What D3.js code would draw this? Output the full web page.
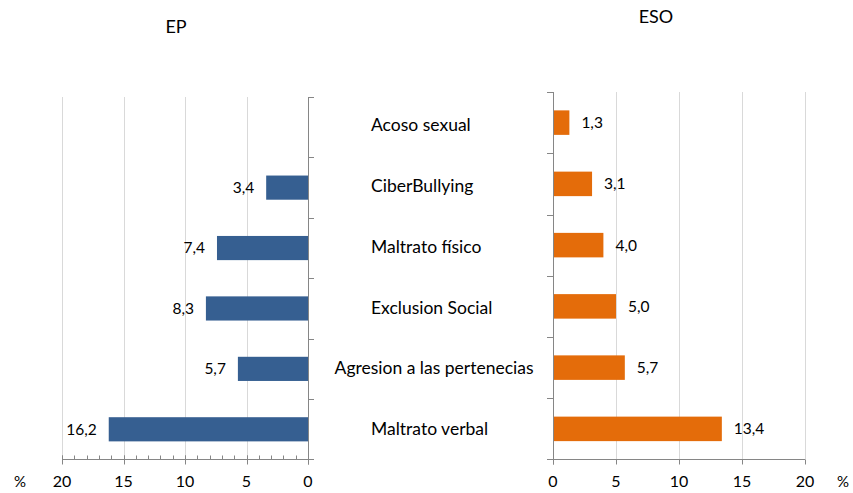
<!DOCTYPE html>
<html lang="es">
<head>
  <meta charset="UTF-8">
  <title>EP vs ESO</title>
  <script src="https://d3js.org/d3.v7.min.js"></script>
  <style>
    body { margin: 0; background: #fff; }
    text { font-family: Lato, "Open Sans", sans-serif; fill: #000; }
  </style>
</head>
<body>
<script>
  const WIDTH = 853;
  const HEIGHT = 493;

  const categories = ['Acoso sexual', 'CiberBullying', 'Maltrato físico', 'Exclusion Social',
    'Agresion a las pertenecias', 'Maltrato verbal'];
  const epValues = [null, 3.4, 7.4, 8.3, 5.7, 16.2];
  const esoValues = [1.3, 3.1, 4.0, 5.0, 5.7, 13.4];
  const tickValues = [0, 5, 10, 15, 20];
  const minorTicks = d3.range(0, 21);

  const fmt = d => d.toFixed(1).replace('.', ',');
  const AXIS = '#868686';
  const GRID = '#d9d9d9';

  const svg = d3.select('body').append('svg')
    .attr('width', WIDTH)
    .attr('height', HEIGHT);

  const baseY = 459.5;
  const tickY = 487;

  // ---- left chart (EP), reversed scale ----
  const xL = d3.scaleLinear().domain([0, 20]).range([308, 62]);
  const yL = d3.scaleBand().domain(categories).range([97, baseY]).paddingInner(0.6).paddingOuter(0.3);
  const yLt = d3.scaleBand().domain(categories).range([97, baseY]);

  const left = svg.append('g');

  left.selectAll('line.grid')
    .data(tickValues.filter(d => d > 0))
    .enter().append('line')
    .attr('x1', d => Math.round(xL(d)) + 0.5).attr('x2', d => Math.round(xL(d)) + 0.5)
    .attr('y1', 97).attr('y2', baseY)
    .attr('stroke', GRID);

  left.selectAll('rect')
    .data(categories.map((c, i) => ({ c, v: epValues[i] })).filter(d => d.v != null))
    .enter().append('rect')
    .attr('x', d => xL(d.v))
    .attr('width', d => xL(0) - xL(d.v))
    .attr('y', d => yL(d.c))
    .attr('height', yL.bandwidth())
    .attr('fill', '#365F91');

  left.selectAll('text.val')
    .data(categories.map((c, i) => ({ c, v: epValues[i] })).filter(d => d.v != null))
    .enter().append('text')
    .attr('x', d => xL(d.v) - 12)
    .attr('y', d => yL(d.c) + yL.bandwidth() / 2)
    .attr('dy', '0.35em')
    .attr('text-anchor', 'end')
    .attr('font-size', 15.5)
    .text(d => fmt(d.v));

  // minor ticks (upward)
  left.selectAll('line.minor')
    .data(minorTicks)
    .enter().append('line')
    .attr('x1', d => Math.round(xL(d)) + 0.5).attr('x2', d => Math.round(xL(d)) + 0.5)
    .attr('y1', baseY - 4).attr('y2', baseY)
    .attr('stroke', AXIS);

  // major ticks (cross)
  left.selectAll('line.major')
    .data(tickValues)
    .enter().append('line')
    .attr('x1', d => Math.round(xL(d)) + 0.5).attr('x2', d => Math.round(xL(d)) + 0.5)
    .attr('y1', baseY - 4).attr('y2', baseY + 5)
    .attr('stroke', AXIS);

  left.append('line')
    .attr('x1', xL(20)).attr('x2', xL(0) + 6)
    .attr('y1', baseY).attr('y2', baseY)
    .attr('stroke', AXIS);

  left.append('line')
    .attr('x1', xL(0) + 0.5).attr('x2', xL(0) + 0.5)
    .attr('y1', 97).attr('y2', baseY + 5)
    .attr('stroke', AXIS);

  left.selectAll('line.ytick')
    .data(categories.map(c => yLt(c)))
    .enter().append('line')
    .attr('x1', xL(0)).attr('x2', xL(0) + 6)
    .attr('y1', d => Math.round(d) + 0.5).attr('y2', d => Math.round(d) + 0.5)
    .attr('stroke', AXIS);

  left.selectAll('text.tick')
    .data(tickValues)
    .enter().append('text')
    .attr('x', d => xL(d))
    .attr('y', tickY)
    .attr('text-anchor', 'middle')
    .attr('font-size', 16)
    .text(d => d);

  left.append('text').attr('x', 20).attr('y', tickY).attr('text-anchor', 'middle')
    .attr('font-size', 15).text('%');

  svg.append('text').attr('x', 176).attr('y', 33).attr('text-anchor', 'middle')
    .attr('font-size', 18).text('EP');

  // ---- right chart (ESO) ----
  const xR = d3.scaleLinear().domain([0, 20]).range([553, 805]);
  const yR = d3.scaleBand().domain(categories).range([92, baseY]).paddingInner(0.6).paddingOuter(0.3);
  const yRt = d3.scaleBand().domain(categories).range([92, baseY]);

  const right = svg.append('g');

  right.selectAll('line.grid')
    .data(tickValues.filter(d => d > 0))
    .enter().append('line')
    .attr('x1', d => Math.round(xR(d)) + 0.5).attr('x2', d => Math.round(xR(d)) + 0.5)
    .attr('y1', 92).attr('y2', baseY)
    .attr('stroke', GRID);

  right.selectAll('rect')
    .data(categories.map((c, i) => ({ c, v: esoValues[i] })))
    .enter().append('rect')
    .attr('x', xR(0))
    .attr('width', d => xR(d.v) - xR(0))
    .attr('y', d => yR(d.c))
    .attr('height', yR.bandwidth())
    .attr('fill', '#E46C0A');

  right.selectAll('text.val')
    .data(categories.map((c, i) => ({ c, v: esoValues[i] })))
    .enter().append('text')
    .attr('x', d => xR(d.v) + 12)
    .attr('y', d => yR(d.c) + yR.bandwidth() / 2)
    .attr('dy', '0.35em')
    .attr('font-size', 15.5)
    .text(d => fmt(d.v));

  right.selectAll('line.major')
    .data(tickValues)
    .enter().append('line')
    .attr('x1', d => Math.round(xR(d)) + 0.5).attr('x2', d => Math.round(xR(d)) + 0.5)
    .attr('y1', baseY).attr('y2', baseY + 5)
    .attr('stroke', AXIS);

  right.append('line')
    .attr('x1', xR(0) - 6).attr('x2', xR(20))
    .attr('y1', baseY).attr('y2', baseY)
    .attr('stroke', AXIS);

  right.append('line')
    .attr('x1', xR(0) + 0.5).attr('x2', xR(0) + 0.5)
    .attr('y1', 92).attr('y2', baseY + 5)
    .attr('stroke', AXIS);

  right.selectAll('line.ytick')
    .data(categories.map(c => yRt(c)))
    .enter().append('line')
    .attr('x1', xR(0) - 6).attr('x2', xR(0))
    .attr('y1', d => Math.round(d) + 0.5).attr('y2', d => Math.round(d) + 0.5)
    .attr('stroke', AXIS);

  right.selectAll('text.tick')
    .data(tickValues)
    .enter().append('text')
    .attr('x', d => xR(d))
    .attr('y', tickY)
    .attr('text-anchor', 'middle')
    .attr('font-size', 16)
    .text(d => d);

  right.append('text').attr('x', 843).attr('y', tickY).attr('text-anchor', 'middle')
    .attr('font-size', 15).text('%');

  svg.append('text').attr('x', 656).attr('y', 23).attr('text-anchor', 'middle')
    .attr('font-size', 18).text('ESO');

  // ---- category labels in the middle ----
  const yM = d3.scaleBand().domain(categories).range([94.5, baseY]);
  const labels = svg.selectAll('text.cat')
    .data(categories)
    .enter().append('text')
    .attr('y', d => yM(d) + yM.bandwidth() / 2)
    .attr('dy', '0.35em')
    .attr('font-size', 17.5)
    .text(d => d);
  labels.attr('x', function () {
    const w = this.getComputedTextLength();
    return Math.min(371, 434 - w / 2);
  });
</script>
</body>
</html>
